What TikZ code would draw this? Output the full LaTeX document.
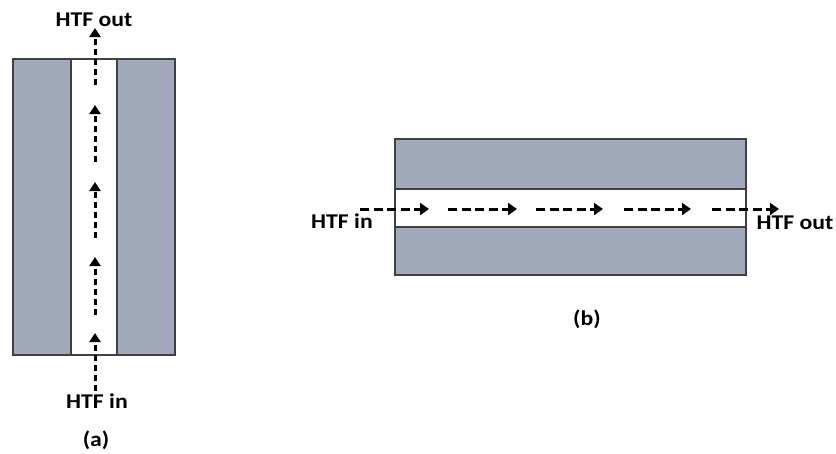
\documentclass[tikz,border=0pt]{standalone}
\usepackage{fontspec}
\setmainfont{Carlito}
\usetikzlibrary{arrows.meta}
\definecolor{slab}{RGB}{162,169,186}
\definecolor{edge}{RGB}{64,64,64}
\tikzset{
  slabbox/.style={draw=edge, line width=1.6pt, fill=slab},
  chanbox/.style={draw=edge, line width=1.6pt, fill=white},
  vflow/.style={line width=3pt, dash pattern=on 6pt off 4pt, -{Triangle[length=9pt,width=11pt]}},
  hflow/.style={line width=3pt, dash pattern=on 9pt off 4.5pt, -{Triangle[length=9pt,width=12pt]}},
  lbl/.style={font=\bfseries\fontsize{21}{23}\selectfont, inner sep=0pt, anchor=base},
}
\newcommand{\wtxt}[1]{\scalebox{1.13}[1]{#1}}
\begin{document}
\begin{tikzpicture}[x=1pt,y=-1pt]
\useasboundingbox (0,0) rectangle (836,453);
% (a)
\filldraw[slabbox] (13,59) rectangle (71,355);
\filldraw[chanbox] (71,59) rectangle (117,355);
\filldraw[slabbox] (117,59) rectangle (175,355);
\foreach \t/\h/\n in {391/333/1, 315/257/2, 238/182/3, 162/105/4, 85/28/5}{
  \coordinate (va\n) at (95,\t);
  \coordinate (vb\n) at (95,\h);
  \draw[vflow] (va\n) -- (vb\n);
}
\node[lbl] (aout) at (94,26) {\wtxt{HTF out}};
\node[lbl] (ain) at (97,408) {\wtxt{HTF in}};
\node[lbl] (alab) at (96,446) {\wtxt{(a)}};
% (b)
\filldraw[slabbox] (395,139) rectangle (746,189);
\filldraw[chanbox] (395,189) rectangle (746,227);
\filldraw[slabbox] (395,227) rectangle (746,275);
\foreach \t/\h/\n in {360/429/1, 448/517/2, 536/603/3, 624/691/4, 712/779/5}{
  \coordinate (ha\n) at (\t,209);
  \coordinate (hb\n) at (\h,209);
  \draw[hflow] (ha\n) -- (hb\n);
}
\node[lbl] (bin) at (342,228) {\wtxt{HTF in}};
\node[lbl] (bout) at (795,229) {\wtxt{HTF out}};
\node[lbl] (blab) at (587,325) {\wtxt{(b)}};
\end{tikzpicture}
\end{document}
